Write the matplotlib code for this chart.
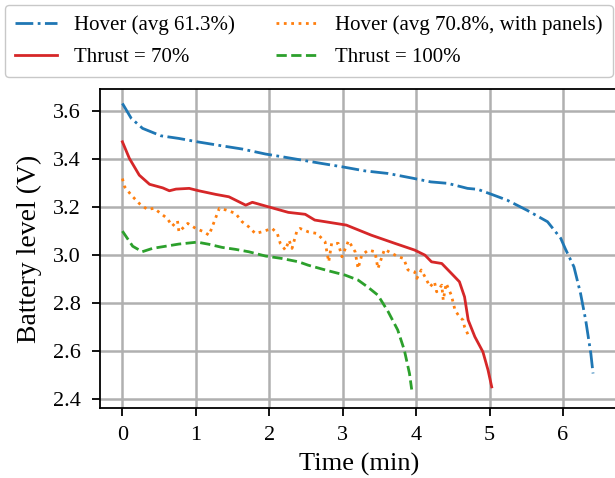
import matplotlib
matplotlib.use("Agg")
import matplotlib.pyplot as plt

plt.rcParams['font.family'] = ['Liberation Serif', 'DejaVu Serif']

# Hover (avg 61.3%)
hover_t = [0.0, 0.12, 0.275, 0.525, 0.77, 1.02, 1.36, 1.63, 1.95, 2.17, 2.44, 2.71, 2.99,
           3.30, 3.62, 3.96, 4.20, 4.43, 4.70, 4.84, 5.02, 5.24, 5.51, 5.79, 5.97, 6.03,
           6.15, 6.24, 6.31, 6.38, 6.41]
hover_v = [3.632, 3.570, 3.528, 3.497, 3.486, 3.472, 3.455, 3.442, 3.421, 3.410, 3.396,
           3.382, 3.368, 3.351, 3.340, 3.320, 3.305, 3.299, 3.278, 3.274, 3.254, 3.229,
           3.187, 3.139, 3.070, 3.028, 2.951, 2.840, 2.729, 2.590, 2.507]

# Hover (avg 70.8%, with panels)
panels_t = [0.0, 0.03, 0.12, 0.23, 0.34, 0.43, 0.52, 0.61, 0.68, 0.75, 0.77, 0.89, 1.0,
            1.11, 1.18, 1.25, 1.32, 1.41, 1.54, 1.63, 1.72, 1.81, 1.90, 2.04, 2.11, 2.15,
            2.22, 2.27, 2.31, 2.38, 2.42, 2.53, 2.65, 2.76, 2.81, 2.85, 2.94, 2.99, 3.08,
            3.17, 3.21, 3.26, 3.35, 3.44, 3.48, 3.57, 3.67, 3.76, 3.83, 3.89, 3.98, 4.01,
            4.07, 4.12, 4.19, 4.25, 4.28, 4.35, 4.37, 4.41, 4.48, 4.53, 4.59, 4.64, 4.66,
            4.71]
panels_v = [3.319, 3.285, 3.250, 3.215, 3.190, 3.195, 3.174, 3.153, 3.121, 3.143, 3.097,
            3.132, 3.111, 3.097, 3.083, 3.139, 3.195, 3.188, 3.174, 3.139, 3.118, 3.090,
            3.097, 3.111, 3.090, 3.049, 3.021, 3.062, 3.028, 3.104, 3.111, 3.097, 3.090,
            3.056, 2.972, 3.049, 3.049, 2.993, 3.060, 3.014, 2.944, 3.000, 3.021, 3.014,
            2.944, 3.024, 3.007, 2.993, 2.986, 2.938, 2.930, 2.903, 2.938, 2.910, 2.868,
            2.889, 2.847, 2.875, 2.812, 2.882, 2.833, 2.771, 2.743, 2.729, 2.701, 2.667]

# Thrust = 70%
t70_t = [0.0, 0.095, 0.23, 0.37, 0.55, 0.64, 0.73, 0.91, 1.04, 1.27, 1.45, 1.68, 1.77,
         1.99, 2.26, 2.49, 2.62, 3.05, 3.39, 3.71, 3.98, 4.12, 4.21, 4.35, 4.48, 4.59,
         4.66, 4.71, 4.80, 4.91, 4.98, 5.03]
t70_v = [3.472, 3.403, 3.333, 3.295, 3.280, 3.268, 3.275, 3.278, 3.268, 3.253, 3.243,
         3.208, 3.220, 3.201, 3.178, 3.170, 3.146, 3.125, 3.083, 3.049, 3.021, 3.000,
         2.972, 2.965, 2.924, 2.889, 2.826, 2.729, 2.660, 2.597, 2.521, 2.451]

# Thrust = 100%
t100_t = [0.0, 0.14, 0.27, 0.41, 0.59, 0.77, 1.02, 1.18, 1.36, 1.54, 1.72, 1.95, 2.17,
          2.40, 2.53, 2.80, 3.03, 3.21, 3.35, 3.48, 3.62, 3.75, 3.84, 3.91, 3.94]
t100_v = [3.100, 3.037, 3.014, 3.028, 3.037, 3.046, 3.054, 3.045, 3.032, 3.024, 3.014,
          2.996, 2.986, 2.972, 2.958, 2.935, 2.917, 2.896, 2.865, 2.833, 2.764, 2.688,
          2.604, 2.507, 2.440]

fig = plt.figure(figsize=(6.15, 4.78), dpi=100)
ax = fig.add_axes([100/615, 70/478, 518/615, 319/478])
ax.grid(True, color='#b0b0b0', linewidth=1.8)
ax.set_axisbelow(True)

l1, = ax.plot(hover_t, hover_v, color='#1f77b4', ls='-.', lw=2.0, label='Hover (avg 61.3%)')
l2, = ax.plot(panels_t, panels_v, color='#ff7f0e', ls=':', lw=2.0,
              label='Hover (avg 70.8%, with panels)')
l3, = ax.plot(t70_t, t70_v, color='#d62728', ls='-', lw=2.0, label='Thrust = 70%')
l4, = ax.plot(t100_t, t100_v, color='#2ca02c', ls='--', lw=2.0, label='Thrust = 100%')

ax.set_xlim(-0.305, 6.75)
ax.set_ylim(2.363, 3.692)
ax.set_xticks([0, 1, 2, 3, 4, 5, 6])
ax.set_yticks([2.4, 2.6, 2.8, 3.0, 3.2, 3.4, 3.6])
ax.tick_params(labelsize=16, length=6, width=1.3)
ax.tick_params(axis='y', pad=8)
ax.tick_params(axis='x', pad=7)
for s in ax.spines.values():
    s.set_linewidth(1.3)
ax.set_xlabel('Time (min)', fontsize=19, labelpad=6)
ax.set_ylabel('Battery level (V)', fontsize=20, labelpad=8)

# row-major order in the legend: matplotlib fills columns first
fig.legend(handles=[l1, l3, l2, l4], ncol=2, loc='upper center',
           bbox_to_anchor=(0.502, 0.99), borderaxespad=0, fontsize=15,
           borderpad=0.5, labelspacing=0.6,
           edgecolor='#bbbbbb', fancybox=True)

fig.savefig('out.png', dpi=100)
